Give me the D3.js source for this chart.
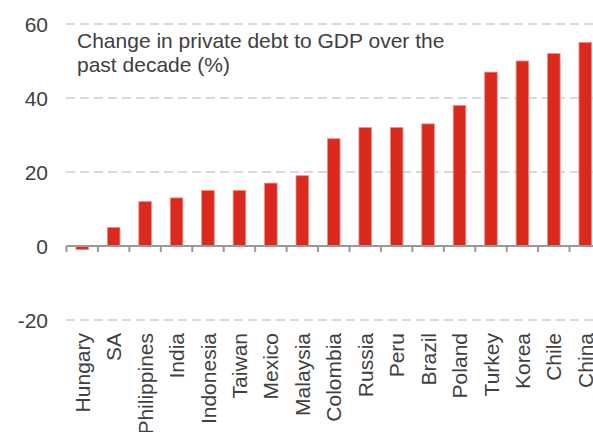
<!DOCTYPE html>
<html>
<head>
<meta charset="utf-8">
<script src="https://cdn.jsdelivr.net/npm/d3@7"></script>
<style>
  html, body { margin: 0; padding: 0; background: #fff; overflow: hidden; }
  svg { display: block; font-family: "Liberation Sans", Arial, sans-serif; }
</style>
</head>
<body>
<svg id="chart" width="593" height="432"></svg>
<script>
const categories = ["Hungary","SA","Philippines","India","Indonesia","Taiwan","Mexico","Malaysia","Colombia","Russia","Peru","Brazil","Poland","Turkey","Korea","Chile","China"];
const values = [-1, 5, 12, 13, 15, 15, 17, 19, 29, 32, 32, 33, 38, 47, 50, 52, 55];
const yTicks = [-20, 0, 20, 40, 60];
const titleLines = ["Change in private debt to GDP over the", "past decade (%)"];

const svg = d3.select("#chart");
const textColor = "#404040";

const x = d3.scaleBand()
  .domain(categories)
  .range([66.5, 601])
  .paddingInner(0.6)
  .paddingOuter(0.3);

const y = d3.scaleLinear().domain([-20, 60]).range([320, 24]);

// gridlines
const grid = svg.append("g");
yTicks.filter(t => t !== 0).forEach(t => {
  grid.append("line")
    .attr("x1", 66).attr("x2", 593)
    .attr("y1", y(t)).attr("y2", y(t))
    .attr("stroke", "#d9d9d9")
    .attr("stroke-width", 2)
    .attr("stroke-dasharray", "9,5");
});

// y tick labels
svg.append("g").selectAll("text")
  .data(yTicks)
  .join("text")
  .attr("x", 48)
  .attr("y", d => y(d))
  .attr("dy", "0.36em")
  .attr("text-anchor", "end")
  .attr("fill", textColor)
  .attr("font-size", 21)
  .text(d => d);

// bars
svg.append("g").selectAll("rect")
  .data(categories)
  .join("rect")
  .attr("x", d => x(d))
  .attr("width", x.bandwidth())
  .attr("y", (d, i) => Math.min(y(values[i]), y(0)))
  .attr("height", (d, i) => Math.abs(y(values[i]) - y(0)))
  .attr("fill", "#dc291e")
  .attr("stroke", "#f08d87")
  .attr("stroke-width", 0.8);

// zero axis with ticks at band boundaries
const step = x.step();
const r0 = x.range()[0];
const axis = svg.append("g");
axis.append("line")
  .attr("x1", r0).attr("x2", 593)
  .attr("y1", y(0)).attr("y2", y(0))
  .attr("stroke", "#999")
  .attr("stroke-width", 2);
d3.range(categories.length + 1).forEach(i => {
  axis.append("line")
    .attr("x1", r0 + i * step).attr("x2", r0 + i * step)
    .attr("y1", y(0)).attr("y2", y(0) + 6)
    .attr("stroke", "#999")
    .attr("stroke-width", 2);
});

// category labels
svg.append("g").selectAll("text")
  .data(categories)
  .join("text")
  .attr("transform", d => `translate(${x(d) + x.bandwidth() / 2},333) rotate(-90)`)
  .attr("dy", "0.36em")
  .attr("text-anchor", "end")
  .attr("fill", textColor)
  .attr("font-size", 21)
  .text(d => d);

// title
const title = svg.append("text")
  .attr("x", 77)
  .attr("fill", textColor)
  .attr("font-size", 21);
titleLines.forEach((line, i) => {
  title.append("tspan").attr("x", 77).attr("y", 48 + i * 23.5).text(line);
});
</script>
</body>
</html>
